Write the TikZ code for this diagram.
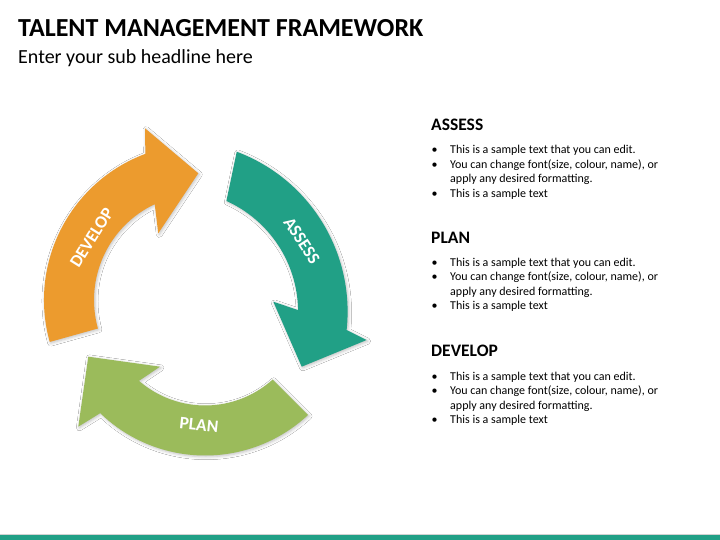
\documentclass[tikz,border=0pt]{standalone}
\usepackage{fontspec}
\setmainfont{Carlito}
\usetikzlibrary{calc,shadows.blur}
\definecolor{aorange}{HTML}{EC9B2E}
\definecolor{ateal}{HTML}{21A086}
\definecolor{agreen}{HTML}{9BBB5B}
\begin{document}
\begin{tikzpicture}[x=1pt,y=1pt,
  arrowshape/.style={blur shadow={shadow xshift=1pt,shadow yshift=-1.2pt,shadow blur radius=3pt,shadow opacity=25}},
  arrowlabel/.style={text=white,inner sep=0,font=\bfseries\fontsize{17.5}{20}\selectfont},
  headtxt/.style={anchor=base west,inner sep=0,font=\bfseries\fontsize{17.5}{20}\selectfont},
  btxt/.style={anchor=base west,inner sep=0,font=\fontsize{12}{14.4}\selectfont},
]
\useasboundingbox (0,0) rectangle (720,540);
\fill[white] (0,0) rectangle (720,540);

% titles
\node[anchor=base west,inner sep=0,font=\bfseries\fontsize{26}{30}\selectfont] (title) at (18,503.3) {TALENT MANAGEMENT FRAMEWORK};
\node[anchor=base west,inner sep=0,font=\fontsize{20}{24}\selectfont] (sub) at (18,476.7) {Enter your sub headline here};

% DEVELOP arrow
\coordinate (cD) at (200,240);
\fill[aorange,arrowshape] ($(cD)+(195.6:156pt)$) arc[start angle=195.6,end angle=110.5,radius=156pt]
  -- (145,411.7) -- (198.3,366.7) -- (158.3,306.7)
  -- ($(cD)+(115.3:106pt)$) arc[start angle=115.3,end angle=195.6,radius=106pt] -- cycle;

% ASSESS arrow
\coordinate (cA) at (176.6,228.2);
\fill[ateal,arrowshape] ($(cA)+(69.4:171pt)$) arc[start angle=69.4,end angle=-6.1,radius=171pt]
  -- (366.7,200) -- (301.7,173.3) -- (273.3,238.3)
  -- ($(cA)+(0.8:121.5pt)$) arc[start angle=0.8,end angle=65.8,radius=121.5pt] -- cycle;

% PLAN arrow
\coordinate (cP) at (205.1,235.5);
\fill[agreen,arrowshape] ($(cP)+(-47:151pt)$) arc[start angle=-47,end angle=-134,radius=151pt]
  -- (78.3,113.3) -- (88.3,183.3) -- (160,173.3)
  -- ($(cP)+(-130.9:101pt)$) arc[start angle=-130.9,end angle=-48,radius=101pt] -- cycle;

% arrow labels
\node[arrowlabel,rotate=58] (ldev) at (91.7,302.5) {DEVELOP};
\node[arrowlabel,rotate=-57] (lass) at (301.7,299.2) {ASSESS};
\node[arrowlabel,rotate=-6] (lplan) at (199,115) {PLAN};

% right column
\foreach \nm/\hy [count=\i] in {ASSESS/409.3,PLAN/296.7,DEVELOP/183}{
  \node[headtxt] (h\i) at (431,\hy) {\nm};
  \node[btxt] (da\i) at (431.5,\hy-23.3) {•};
  \node[btxt] (ta\i) at (450,\hy-23.3) {This is a sample text that you can edit.};
  \node[btxt] (db\i) at (431.5,\hy-37.7) {•};
  \node[btxt] (tb\i) at (450,\hy-37.7) {You can change font(size, colour, name), or};
  \node[btxt] (tc\i) at (450,\hy-52.1) {apply any desired formatting.};
  \node[btxt] (dd\i) at (431.5,\hy-66.5) {•};
  \node[btxt] (td\i) at (450,\hy-66.5) {This is a sample text};
}

% bottom bar
\draw[gray!35,line width=0.6pt] (0,5.9) -- (720,5.9);
\fill[ateal] (0,0) rectangle (720,5.4);
\end{tikzpicture}
\end{document}
